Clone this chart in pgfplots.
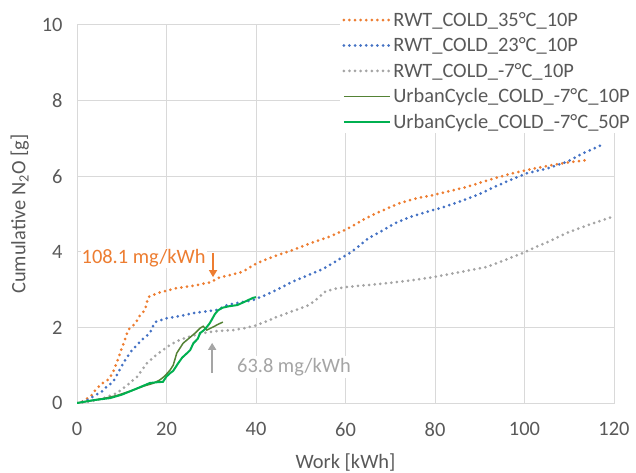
\documentclass[border=0pt]{standalone}
\usepackage{fontspec}
\setmainfont{Carlito}
\usepackage{pgfplots}
\pgfplotsset{compat=1.18}
\usetikzlibrary{arrows.meta}

\definecolor{xlorange}{HTML}{ED7D31}
\definecolor{xlblue}{HTML}{4472C4}
\definecolor{xlgray}{HTML}{A5A5A5}
\definecolor{xldkgreen}{HTML}{548235}
\definecolor{xlgreen}{HTML}{00B050}
\definecolor{gridgray}{HTML}{D9D9D9}
\definecolor{labgray}{HTML}{595959}

\newcommand{\xlfont}{\fontsize{20.5}{24}\selectfont}

\begin{document}
\begin{tikzpicture}
\begin{axis}[
  name=ax,
  width=537bp, height=378bp, scale only axis,
  xmin=0, xmax=120, ymin=0, ymax=10,
  xtick={0,20,...,120}, ytick={0,2,...,10},
  grid=major,
  major grid style={draw=gridgray, line width=1bp},
  axis line style={draw=gridgray, line width=1bp},
  tick style={draw=none},
  /pgf/number format/assume math mode=true,
  ticklabel style={font=\xlfont, text=labgray},
  xticklabel style={yshift=-16bp},
  yticklabel style={xshift=-11bp},
  xlabel={Work [kWh]},
  ylabel={Cumulative N\textsubscript{2}O [g]},
  label style={font=\xlfont, text=labgray},
  xlabel style={yshift=-10bp},
  ylabel style={yshift=6bp},
  legend cell align=left,
  legend style={draw=none, fill=white, font=\xlfont, text=labgray,
    at={(0.49,1.042)}, anchor=north west,
    inner xsep=2bp, inner ysep=1bp,
    row sep=6bp},
  legend image code/.code={\draw[#1] (0bp,0bp) -- (46bp,0bp);},
  dotted xl/.style={line width=3bp, line cap=round, dash pattern=on 0bp off 5.6bp},
]
\addplot[xlorange, dotted xl] coordinates {
 (0,0) (1.5,0.05) (3.3,0.21) (4.5,0.4) (5.8,0.53) (7,0.62) (8,0.8) (9,1.1)
 (9.6,1.32) (10.5,1.6) (11.4,1.93) (13,2.1) (14,2.3) (15.2,2.46) (15.9,2.8)
 (17.8,2.9) (20,2.97) (22.3,3.04) (26,3.1) (30.1,3.2) (31.3,3.3) (34,3.38)
 (37,3.47) (40.2,3.7) (44,3.88) (48.3,4.05) (52,4.22) (56,4.38) (60.3,4.6)
 (64,4.85) (67,5.03) (72.2,5.29) (76,5.42) (79.6,5.5) (83,5.6) (87,5.71)
 (92,5.9) (97.4,6.08) (102,6.2) (106.4,6.3) (110,6.37) (114.2,6.43)
};
\addlegendentry{RWT\_COLD\_35°C\_10P}
\addplot[xlblue, dotted xl] coordinates {
 (0,0) (2,0.05) (4,0.2) (5.5,0.3) (6.6,0.43) (8,0.55) (9.2,0.8) (10.3,1.05)
 (12.3,1.4) (14.5,1.67) (16.3,1.85) (17.4,2.14) (20,2.24) (23,2.3) (26,2.38)
 (31.3,2.46) (33.5,2.59) (36,2.65) (39.3,2.72) (42,2.85) (44.6,2.99) (48,3.2)
 (52,3.4) (55,3.55) (57.2,3.7) (59.4,3.86) (61,3.97) (63,4.15) (65,4.35)
 (68.4,4.57) (71,4.75) (74.4,4.92) (78,5.05) (81.8,5.18) (86,5.35) (89.4,5.5)
 (93,5.7) (96.8,5.9) (100.6,6.08) (105,6.2) (109.5,6.38) (113,6.6) (117.3,6.83)
};
\addlegendentry{RWT\_COLD\_23°C\_10P}
\addplot[xlgray, dotted xl] coordinates {
 (0,0) (2,0.02) (4.5,0.08) (6.5,0.15) (8.9,0.26) (11,0.45) (13.4,0.69)
 (15.6,1.05) (17.5,1.25) (19.2,1.4) (21,1.55) (23,1.67) (25.5,1.77) (28.2,1.85)
 (31,1.9) (34.9,1.93) (37.5,1.98) (40.2,2.06) (42.5,2.17) (44.7,2.28) (47,2.38)
 (49.8,2.5) (52,2.6) (53.9,2.78) (55.4,2.94) (57.5,3.02) (60.3,3.07) (65,3.12)
 (70,3.18) (75,3.25) (79.6,3.33) (85,3.45) (91.6,3.6) (96,3.8) (99.7,3.97)
 (102,4.1) (105,4.25) (109.5,4.5) (114,4.7) (119.8,4.93)
};
\addlegendentry{RWT\_COLD\_-7°C\_10P}
\addplot[xldkgreen, line width=1.5bp] coordinates {
 (0,0) (3,0.06) (6,0.12) (9,0.2) (12,0.32) (15,0.45) (17,0.52) (18.5,0.61)
 (19.5,0.7) (20.8,0.87) (21.5,1.0) (22.3,1.32) (23,1.45) (23.7,1.58)
 (25.3,1.74) (26.5,1.86) (27.5,1.98) (28.2,2.03) (29,1.93) (30.4,2.01)
 (31.5,2.08) (32.6,2.14)
};
\addlegendentry{UrbanCycle\_COLD\_-7°C\_10P}
\addplot[xlgreen, line width=2bp] coordinates {
 (0,0) (2,0.04) (4,0.08) (7.4,0.13) (10,0.22) (12.5,0.34) (14.5,0.44)
 (16.3,0.53) (18,0.55) (19.2,0.56) (20,0.7) (20.8,0.79) (21.5,0.85)
 (22.6,1.05) (23.5,1.2) (24.6,1.32) (25.3,1.4) (26,1.58) (27,1.7) (27.5,1.85)
 (28.3,1.92) (29,2.01) (29.6,2.1) (30.1,2.2) (30.8,2.35) (31.5,2.45) (32.5,2.52)
 (34,2.56) (35.8,2.59) (37.5,2.68) (39.3,2.78) (40,2.8)
};
\addlegendentry{UrbanCycle\_COLD\_-7°C\_50P}

\node[font=\xlfont, text=xlorange, fill=white, inner sep=1bp, anchor=east]
  at (axis cs:29,3.84) {108.1 mg/kWh};
\draw[xlorange, line width=1.5bp, -{Triangle[width=8bp,length=7bp]}]
  (axis cs:30.4,3.97) -- (axis cs:30.4,3.33);
\node[font=\xlfont, text=xlgray, fill=white, inner sep=2bp, anchor=west]
  at (axis cs:35.3,0.95) {63.8 mg/kWh};
\draw[xlgray, line width=1.5bp, -{Triangle[width=8bp,length=7bp]}]
  (axis cs:30.2,0.79) -- (axis cs:30.2,1.59);
\end{axis}
\pgfresetboundingbox
\path (ax.south west) ++(-77bp,-70bp) coordinate (bl);
\path (ax.north east) ++(22bp,25bp) coordinate (tr);
\path[use as bounding box] (bl) rectangle (tr);
\end{tikzpicture}
\end{document}
